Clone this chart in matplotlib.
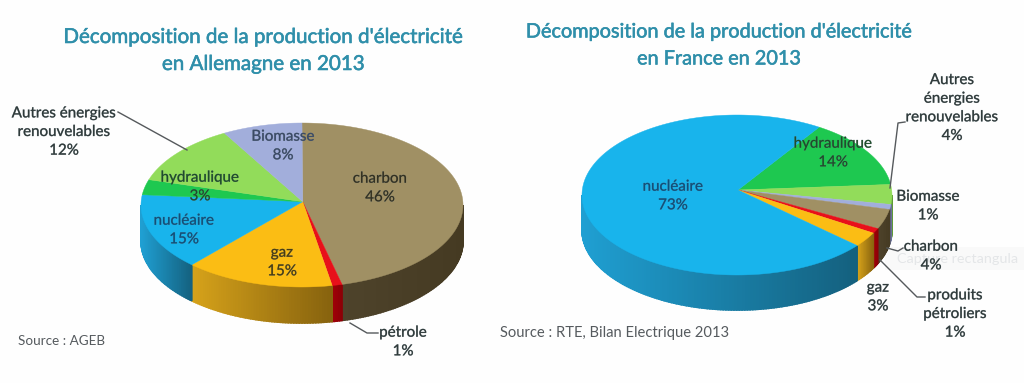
import numpy as np
import matplotlib
matplotlib.use("Agg")
import matplotlib.pyplot as plt
import matplotlib.patheffects as pe
from matplotlib.colors import to_rgb

plt.rcParams['font.family'] = ['Lato', 'DejaVu Sans']

# Data, clockwise from the start angle
de_names = ["charbon", "pétrole", "gaz", "nucléaire", "hydraulique", "Autres énergies renouvelables", "Biomasse"]
de_values = [46, 1, 15, 15, 3, 12, 8]
fr_names = ["hydraulique", "Autres énergies renouvelables", "Biomasse", "charbon", "produits pétroliers", "gaz", "nucléaire"]
fr_values = [14, 4, 1, 4, 1, 3, 73]

colors = {
    "charbon": "#a09064",
    "pétrole": "#e8101a",
    "produits pétroliers": "#e8101a",
    "gaz": "#fbbd14",
    "nucléaire": "#18b4ec",
    "hydraulique": "#1ec850",
    "Autres énergies renouvelables": "#92dc5a",
    "Biomasse": "#a2aedb",
}
# side colour at the left and right end of the wall
side_colors = {
    "charbon": ("#4e432b", "#453a22"),
    "pétrole": ("#a00008", "#8a0006"),
    "produits pétroliers": ("#a00008", "#8a0006"),
    "gaz": ("#d6a21a", "#86620e"),
    "nucléaire": ("#1f9fd2", "#14607e"),
    "hydraulique": ("#15803a", "#15803a"),
    "Autres énergies renouvelables": ("#5f9a38", "#5f9a38"),
    "Biomasse": ("#6a7299", "#6a7299"),
}


def ellipse_point(th, geo):
    # th in degrees clockwise from the top
    t = np.deg2rad(th)
    return geo["cx"] + geo["rx"] * np.sin(t), geo["cy"] - geo["ry"] * np.cos(t)


def draw_pie(ax, names, values, start, geo):
    total = sum(values)
    edges = start + np.cumsum([0] + list(values)) * 360.0 / total

    # wall first
    for name, a, b in zip(names, edges[:-1], edges[1:]):
        lo = max(a, 90)
        hi = min(b, 270)
        if hi <= lo:
            continue
        c0 = np.array(to_rgb(side_colors[name][0]))
        c1 = np.array(to_rgb(side_colors[name][1]))
        steps = np.linspace(lo, hi, max(2, int(hi - lo) + 1) + 1)
        x_all = ellipse_point(np.linspace(lo, hi, 40), geo)[0]
        for s0, s1 in zip(steps[:-1], steps[1:]):
            x, y = ellipse_point(np.linspace(s0, s1, 4), geo)
            # gradient runs from the left of the slice to its right
            f = (np.mean(x) - x_all.min()) / max(x_all.max() - x_all.min(), 1)
            ax.fill(np.r_[x, x[::-1]], np.r_[y, y[::-1] + geo["depth"]],
                    color=c0 * (1 - f) + c1 * f, lw=1.2, zorder=2)

    # top face
    for name, a, b in zip(names, edges[:-1], edges[1:]):
        th = np.linspace(a, b, max(3, int(b - a) * 2))
        x, y = ellipse_point(th, geo)
        ax.fill(np.r_[geo["ax"], x], np.r_[geo["ay"], y], color=colors[name], lw=0.3, zorder=3)


fig = plt.figure(figsize=(10.24, 3.83), dpi=100, facecolor="#fefefe")
ax = fig.add_axes([0, 0, 1, 1])
ax.set_xlim(0, 1024)
ax.set_ylim(383, 0)
ax.axis("off")

de_geo = {"cx": 302, "cy": 205, "rx": 161, "ry": 82, "ax": 302.7, "ay": 201.7, "depth": 36}
fr_geo = {"cx": 737, "cy": 195, "rx": 155, "ry": 80, "ax": 738, "ay": 190, "depth": 35}
draw_pie(ax, de_names, de_values, 0, de_geo)
draw_pie(ax, fr_names, fr_values, 32, fr_geo)

# slightly thicker strokes, the reference text is a bit smeared
thick = [pe.withStroke(linewidth=0.35, foreground="#5a6a70", alpha=0.7)]

# titles
title_color = "#2f8faa"
for x, y, s, size in [(263, 37, "Décomposition de la production d'électricité", 14.8),
                      (263, 64, "en Allemagne en 2013", 14.8),
                      (719, 32, "Décomposition de la production d'électricité", 14.3),
                      (719, 59, "en France en 2013", 14.3)]:
    ax.text(x, y, s, color=title_color, fontsize=size, ha="center", va="center",
            path_effects=[pe.withStroke(linewidth=0.4, foreground=title_color)])

# leader lines
line_color = "#55595c"
leaders = [
    ([118, 187], [112, 150]),
    ([350, 367, 378], [323, 333, 333]),
    ([905, 898, 890], [122, 123, 188]),
    ([887, 898, 903], [248, 251, 248]),
    ([880, 917, 925], [260, 297, 297]),
]
for lx, ly in leaders:
    ax.plot(lx, ly, color=line_color, lw=1, zorder=4)

# labels
dark = "#2f3a3a"
labels = [
    (64, 132, "Autres énergies\nrenouvelables\n12%", dark),
    (283, 146, "Biomasse\n8%", "#3a4a66"),
    (380, 188, "charbon\n46%", "#33301f"),
    (200, 187, "hydraulique\n3%", "#1e4d2a"),
    (184, 230, "nucléaire\n15%", "#0f4f7c"),
    (282, 262, "gaz\n15%", "#4a3d10"),
    (403, 342, "pétrole\n1%", dark),
    (952, 108, "Autres\nénergies\nrenouvelables\n4%", dark),
    (833, 153, "hydraulique\n14%", "#1e4d2a"),
    (673, 196, "nucléaire\n73%", "#0f4f7c"),
    (928, 206, "Biomasse\n1%", dark),
    (931, 256, "charbon\n4%", dark),
    (878, 297, "gaz\n3%", dark),
    (955, 314, "produits\npétroliers\n1%", dark),
]
for x, y, s, c in labels:
    ax.text(x, y, s, color=c, fontsize=10.9, ha="center", va="center", linespacing=1.42,
            zorder=5, path_effects=thick)

ax.text(18, 341, "Source : AGEB", color="#555a5e", fontsize=9.7, ha="left", va="center")
ax.text(500, 333, "Source : RTE, Bilan Electrique 2013", color="#555a5e", fontsize=10.6, ha="left", va="center")

# screenshot tooltip left in the picture
ax.fill_between([885, 1024], 247, 270, color="#f9f9f9", lw=0, zorder=0)
ax.text(897, 259, "Capture rectangula", color="#e4e6e8", fontsize=10.4, ha="left", va="center", zorder=1)

fig.savefig("out.png", dpi=100, facecolor=fig.get_facecolor())
